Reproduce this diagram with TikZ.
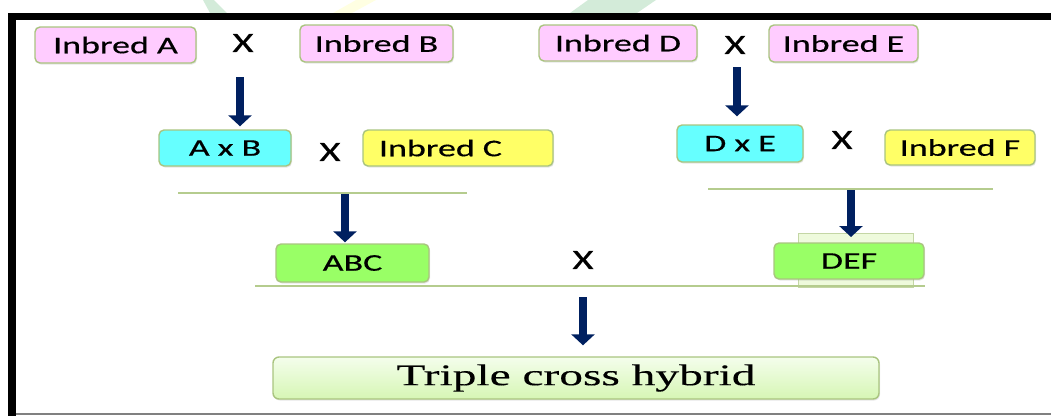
\documentclass[tikz,border=0pt]{standalone}
\usepackage{fontspec}
\usetikzlibrary{arrows.meta,shadows}
\newfontfamily\labfont[FakeStretch=1.5,FakeBold=0.4]{Carlito}
\newfontfamily\crossfont[FakeStretch=1.45,FakeBold=0.6]{Carlito}
\newfontfamily\tripfont[FakeStretch=1.58,FakeBold=0.3]{Liberation Serif}
\definecolor{pinkfill}{HTML}{FFCCFF}
\definecolor{cyanfill}{HTML}{66FFFF}
\definecolor{yellowfill}{HTML}{FFFF66}
\definecolor{greenfill}{HTML}{99FF66}
\definecolor{boxedge}{HTML}{A9C47F}
\definecolor{navyarrow}{HTML}{002060}
\definecolor{ruleline}{HTML}{B5CC8E}
\definecolor{tripTop}{HTML}{F4FEEC}
\definecolor{tripBot}{HTML}{D6F6B4}
\definecolor{backrect}{HTML}{EEFADC}
\definecolor{wmgreen}{HTML}{D3EBD9}
\definecolor{wmyellow}{HTML}{FFFFE2}
\tikzset{
  box/.style={draw=boxedge, line width=1.4pt, rounded corners=5pt, inner sep=0pt,
    font=\labfont\fontsize{24}{28}\selectfont,
    drop shadow={shadow xshift=1pt, shadow yshift=-1.5pt, opacity=0.2}},
  pinkbox/.style={box, fill=pinkfill},
  cyanbox/.style={box, fill=cyanfill},
  yellowbox/.style={box, fill=yellowfill},
  greenbox/.style={box, fill=greenfill},
  crossmark/.style={inner sep=0pt, font=\crossfont\fontsize{28}{32}\selectfont},
  bigarrow/.style={draw=navyarrow, line width=7.5pt,
    -{Triangle[width=23pt,length=11pt]}, fill=navyarrow},
  rule/.style={draw=ruleline, line width=1.5pt}
}
\begin{document}
\begin{tikzpicture}[x=1pt,y=-1pt]
\useasboundingbox (0,0) rectangle (1051,416);
% faint watermark fragments above the frame
\fill[wmgreen] (203,0) -- (214,0) -- (227,13) -- (210,13) -- cycle;
\fill[wmyellow] (356,0) -- (376,0) -- (352,13) -- (333,13) -- cycle;
\fill[wmgreen] (588,0) -- (656,0) -- (637,13) -- (570,13) -- cycle;
% frame
\fill[black] (8,13) rectangle (16,416);
\fill[black] (8,13) rectangle (1051,20);
\draw[gray, line width=2pt] (16,414) -- (1051,414);

% rows
\node[pinkbox, minimum width=161pt, minimum height=36pt] (ia) at (115.5,45) {Inbred A};
\node[crossmark] (x1) at (243,43) {X};
\node[pinkbox, minimum width=153pt, minimum height=37pt] (ib) at (376.5,43.5) {Inbred B};
\node[pinkbox, minimum width=158pt, minimum height=36pt] (id) at (618,43) {Inbred D};
\node[crossmark] (x3) at (735,45) {X};
\node[pinkbox, minimum width=149pt, minimum height=37pt] (ie) at (843.5,43.5) {Inbred E};

\node[cyanbox, minimum width=132pt, minimum height=36pt] (ab) at (225,148) {A x B};
\node[crossmark] (x2) at (330,152) {X};
\node[yellowbox, text width=158pt, inner xsep=16pt, align=left, minimum height=36pt] (ic) at (458,148) {Inbred C};
\node[cyanbox, minimum width=126pt, minimum height=37pt] (de) at (740,143.5) {D x E};
\node[crossmark] (x4) at (842,140) {X};
\node[yellowbox, minimum width=150pt, minimum height=35pt] (iff) at (960,147.5) {Inbred F};

% rules
\coordinate (r1a) at (178,193); \coordinate (r1b) at (467,193);
\coordinate (r2a) at (708,189); \coordinate (r2b) at (993,189);
\coordinate (r3a) at (255,286); \coordinate (r3b) at (925,286);
\draw[rule] (r1a) -- (r1b);
\draw[rule] (r2a) -- (r2b);

% third row
\node[draw=ruleline!80, line width=1pt, fill=backrect, minimum width=115pt, minimum height=54pt, inner sep=0pt] (defback) at (855.5,260) {};
\draw[rule] (r3a) -- (r3b);
\node[greenbox, minimum width=153pt, minimum height=38pt] (abc) at (352.5,263) {ABC};
\node[crossmark] (x5) at (583,260) {X};
\node[greenbox, minimum width=150pt, minimum height=36pt] (def) at (849,261) {DEF};

% final
\node[draw=boxedge, line width=1.4pt, rounded corners=6pt, top color=tripTop, bottom color=tripBot,
  minimum width=606pt, minimum height=42pt, inner sep=0pt,
  font=\tripfont\fontsize{30}{34}\selectfont,
  drop shadow={shadow xshift=1pt, shadow yshift=-1.5pt, opacity=0.2}] (tch) at (576,378) {Triple cross hybrid};

% arrows
\coordinate (s1) at (240,77);
\coordinate (s2) at (345,194);
\coordinate (s3) at (737,67);
\coordinate (s4) at (851,190);
\coordinate (s5) at (583,297);
\draw[bigarrow, shorten >=3pt] (s1) -- (s1 |- ab.north);
\draw[bigarrow, shorten >=1pt] (s2) -- (s2 |- abc.north);
\draw[bigarrow, shorten >=8pt] (s3) -- (s3 |- de.north);
\draw[bigarrow] (s4) -- ++(0,47);
\draw[bigarrow, shorten >=11pt] (s5) -- (s5 |- tch.north);
\end{tikzpicture}
\end{document}
